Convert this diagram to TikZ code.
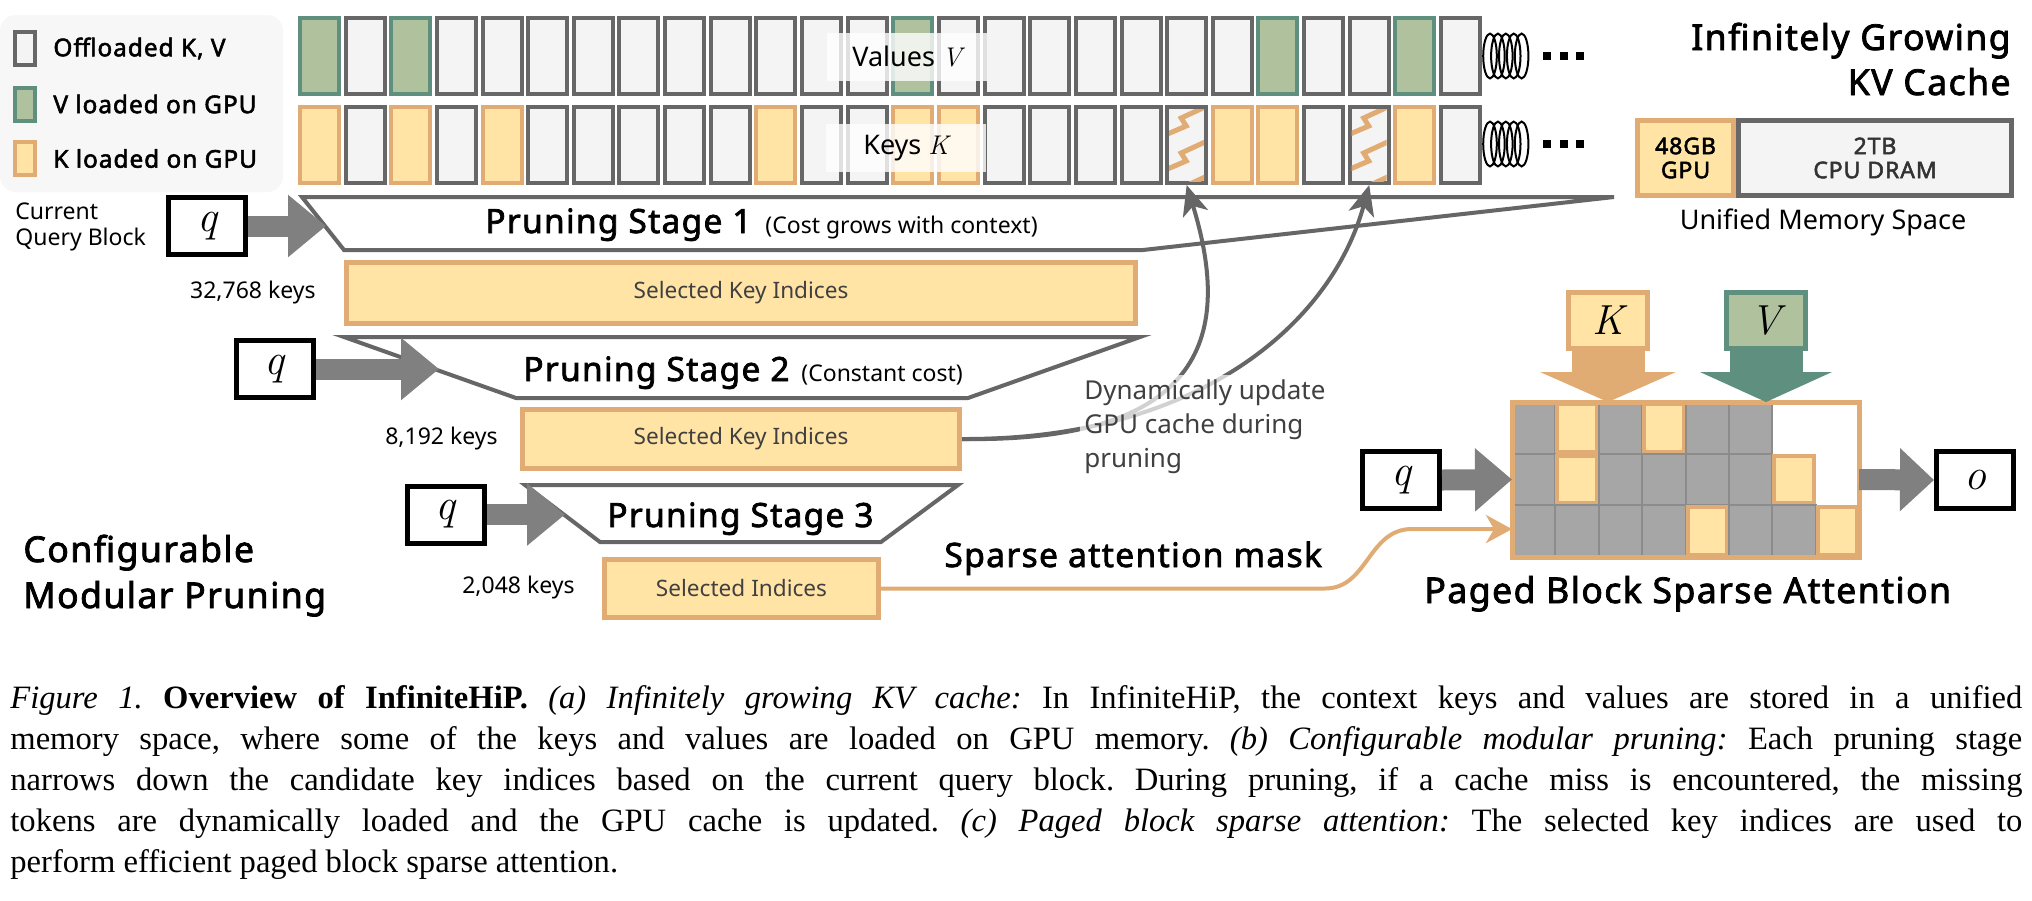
\documentclass[tikz,border=0pt]{standalone}
\usepackage{fontspec}
\newfontfamily\nsans{Noto Sans}[BoldFont={Noto Sans},BoldFeatures={FakeBold=2.2,LetterSpace=4}]
\newfontfamily\capfont{Liberation Serif}
\usetikzlibrary{arrows.meta,calc}
\definecolor{cellf}{HTML}{F4F4F4}
\definecolor{cellb}{HTML}{676767}
\definecolor{yelf}{HTML}{FFE4A6}
\definecolor{yelb}{HTML}{E1AB74}
\definecolor{grnf}{HTML}{B0C29D}
\definecolor{grnb}{HTML}{5F8F7E}
\definecolor{agray}{HTML}{808080}
\definecolor{lgray}{HTML}{666666}
\definecolor{gridg}{HTML}{A6A6A6}
\definecolor{gridl}{HTML}{8C8C8C}
\definecolor{txtg}{HTML}{404040}
\definecolor{legbg}{HTML}{F7F7F7}
\begin{document}
\begin{tikzpicture}[x=0.5pt,y=-0.5pt,
 cellbase/.style={minimum width=19.5pt,minimum height=38pt,line width=2pt,inner sep=0pt},
 cn/.style={cellbase,draw=cellb,fill=cellf},
 cg/.style={cellbase,draw=grnb,fill=grnf},
 cy/.style={cellbase,draw=yelb,fill=yelf},
 legsq/.style={minimum width=10pt,minimum height=16.5pt,line width=2pt,inner sep=0pt},
 legtxt/.style={anchor=west,inner sep=0pt,font=\nsans\bfseries\fontsize{12.2}{14}\selectfont},
 qbox/.style={draw=black,fill=white,line width=2.5pt,minimum width=38.5pt,minimum height=28.5pt,inner sep=0pt,font=\rmfamily\itshape\fontsize{22}{22}\selectfont},
 trap/.style={draw=lgray,fill=white,line width=2pt,line join=miter},
 selbox/.style={draw=yelb,fill=yelf,line width=2.5pt,inner sep=0pt,font=\nsans\fontsize{11.3}{13}\selectfont,text=txtg},
 blockarr/.style={draw=agray,line width=10.5pt,-{Triangle[length=19pt,width=30pt]}},
 head/.style={inner sep=0pt,font=\nsans\bfseries\fontsize{17.8}{20}\selectfont},
 stagehead/.style={inner sep=0pt,font=\nsans\bfseries\fontsize{16.7}{20}\selectfont},
 note/.style={inner sep=0pt,font=\nsans\fontsize{11.5}{13}\selectfont},
 curv/.style={draw=lgray,line width=2pt,-{Stealth[length=15pt,width=13pt,inset=4pt]}},
 mask/.style={draw=yelb,line width=2pt,-{Stealth[length=13pt,width=14pt,inset=4pt]}},
 lab/.style={fill=white,fill opacity=0.8,text opacity=1,minimum width=80pt,minimum height=24pt,inner sep=0pt,font=\nsans\fontsize{13.5}{15}\selectfont},
 kvbox/.style={line width=2.5pt,minimum width=39.5pt,minimum height=28pt,inner sep=0pt,font=\rmfamily\itshape\fontsize{21}{21}\selectfont},
 membox/.style={line width=2.5pt,minimum height=37.5pt,inner sep=0pt,align=center,font=\nsans\bfseries\fontsize{11.5}{13}\selectfont},
]
\useasboundingbox (0,0) rectangle (2032,900);
\fill[white] (0,0) rectangle (2032,900);

% legend
\fill[legbg,rounded corners=8pt] (0,15) rectangle (283,192);
\node[legsq,draw=cellb,fill=cellf] (l1) at (24.5,48.5) {};
\node[legsq,draw=grnb,fill=grnf] (l2) at (24.5,104) {};
\node[legsq,draw=yelb,fill=yelf] (l3) at (24.5,158.5) {};
\node[legtxt] (lt1) at (53,48.5) {Offloaded K, V};
\node[legtxt] (lt2) at (53,104) {V loaded on GPU};
\node[legtxt] (lt3) at (53,158.5) {K loaded on GPU};

% cache cells
\foreach \i/\s in {0/cg,1/cn,2/cg,3/cn,4/cn,5/cn,6/cn,7/cn,8/cn,9/cn,10/cn,11/cn,12/cn,13/cg,14/cn,15/cn,16/cn,17/cn,18/cn,19/cn,20/cn,21/cg,22/cn,23/cn,24/cg,25/cn}
  \node[\s] (v\i) at ({319.5+\i*45.64},56) {};
\foreach \i/\s in {0/cy,1/cn,2/cy,3/cn,4/cy,5/cn,6/cn,7/cn,8/cn,9/cn,10/cy,11/cn,12/cn,13/cy,14/cy,15/cn,16/cn,17/cn,18/cn,19/cn,20/cy,21/cy,22/cn,23/cn,24/cy,25/cn}
  \node[\s] (k\i) at ({319.5+\i*45.64},145) {};
% zigzag cells
\foreach \c in {k19,k23}{
  \begin{scope}
  \clip ($(\c.north west)+(4,4)$) rectangle ($(\c.south east)+(-4,-4)$);
  \foreach \m in {-1,0,1,2}
    \draw[yelb,line width=2.5pt] ($(\c.north west)+(0,{30+35*\m})$) -- ++(21,-9) -- ++(-5,-8) -- ++(26,-12);
  \end{scope}
}
\node[lab] (vlab) at (907,57) {Values {\rmfamily\itshape V}};
\node[lab] (klab) at (906,148) {Keys {\rmfamily\itshape K}};

% coils and dots
\foreach \yy in {56,144}{
  \foreach \j in {0,...,4}
    \draw[black,line width=1pt] ({1490+\j*7.9},\yy) ellipse [x radius=3.4pt,y radius=11.2pt];
  \foreach \xx in {1547,1563.5,1580}
    \fill[black] (\xx-4,\yy-4) rectangle (\xx+4,\yy+4);
}

% title top right
\node[head,anchor=base east] (t1) at (2011,50) {Infinitely Growing};
\node[head,anchor=base east] (t2) at (2011,95) {KV Cache};
\node[membox,draw=cellb,fill=cellf,minimum width=136.5pt,text=black!80] (cpu) at (1875,158) {2TB\\[-1pt]CPU DRAM};
\node[membox,draw=yelb,fill=yelf,minimum width=48pt] (gpu) at (1685.5,158) {48GB\\[-1pt]GPU};
\node[inner sep=0pt,font=\nsans\fontsize{13.5}{15}\selectfont] (ums) at (1823,222) {Unified Memory Space};

% pruning stage 1
\draw[trap] (302,197) -- (1614,197) -- (1143,250) -- (344,250) -- cycle;
\coordinate (s1in) at (326,226);
\node[qbox] (q1) at (207,226) {q};
\draw[blockarr] (q1.east) -- (s1in);
\node[note,anchor=base west] (cur1) at (15,219) {Current};
\node[note,anchor=base west] (cur2) at (15,245) {Query Block};
\node[stagehead,anchor=base west] (p1) at (485,233) {Pruning Stage 1};
\node[note,anchor=base west] (p1c) at (765,233) {(Cost grows with context)};
\node[selbox,minimum width=394.5pt,minimum height=30.5pt] (sel1) at (741,293) {Selected Key Indices};
\node[note,anchor=east] (n1) at (316,293) {32,768 keys};

% pruning stage 2
\draw[trap] (344,337) -- (1140,337) -- (968,398) -- (516,398) -- cycle;
\coordinate (s2in) at (439,369);
\node[qbox] (q2) at (274.5,369) {q};
\draw[blockarr] (q2.east) -- (s2in);
\node[stagehead,anchor=base west] (p2) at (523,381) {Pruning Stage 2};
\node[note,anchor=base west] (p2c) at (801,381) {(Constant cost)};
\node[selbox,minimum width=218.5pt,minimum height=29.5pt] (sel2) at (741,439) {Selected Key Indices};
\node[note,anchor=east] (n2) at (498,439) {8,192 keys};

% pruning stage 3
\draw[trap] (525,485) -- (958,485) -- (881,542) -- (600,542) -- cycle;
\coordinate (s3in) at (565,514.5);
\node[qbox] (q3) at (445.5,514.5) {q};
\draw[blockarr] (q3.east) -- (s3in);
\node[stagehead,anchor=base west] (p3) at (607,527) {Pruning Stage 3};
\node[selbox,minimum width=137pt,minimum height=29pt] (sel3) at (741.5,588.5) {Selected Indices};
\node[note,anchor=east] (n3) at (575,588) {2,048 keys};

\node[head,anchor=base west] (cm1) at (23,562) {Configurable};
\node[head,anchor=base west] (cm2) at (23,608) {Modular Pruning};

% dynamic update curves
\draw[curv] (sel2.east) .. controls (1220,443) and (1228,320) .. (k19.south);
\draw[curv] (sel2.east) .. controls (1200,440) and (1332,322) .. (k23.south);
\node[fill=white,fill opacity=0.7,text opacity=1,align=left,anchor=north west,inner sep=2pt,text=txtg,font=\nsans\fontsize{13}{17}\selectfont] (dyn) at (1080,375) {Dynamically update\\GPU cache during\\pruning};

% paged block sparse attention
\node[minimum width=173.5pt,minimum height=77.5pt,inner sep=0pt,outer sep=0pt] (grid) at (1685.5,479.5) {};
\foreach \r/\row in {0/{G,Y,G,Y,G,G,W,W},1/{G,Y,G,G,G,G,Y,W},2/{G,G,G,G,Y,G,G,Y}}{
  \foreach \t [count=\c from 0] in \row {
    \pgfmathsetmacro\xa{1512+\c*43.375}
    \pgfmathsetmacro\ya{402+\r*51.67}
    \if G\t
      \draw[fill=gridg,draw=gridl,line width=1pt] (\xa,\ya) rectangle ++(43.375,51.67);
    \fi
    \if Y\t
      \draw[fill=yelf,draw=yelb,line width=2pt] (\xa+2,\ya+2) rectangle ++(39.375,47.67);
    \fi
  }
}
\draw[yelb,line width=2.5pt] (grid.north west) rectangle (grid.south east);

\node[kvbox,draw=yelb,fill=yelf] (kb) at (1608,320.5) {K};
\node[kvbox,draw=grnb,fill=grnf] (vb) at (1766,320.5) {V};
\draw[draw=yelb,line width=36.5pt,-{Triangle[length=15pt,width=67.5pt]}] (kb.south) -- (kb.south |- grid.north);
\draw[draw=grnb,line width=36.5pt,-{Triangle[length=15pt,width=65.5pt]}] (vb.south) -- (vb.south |- grid.north);

\node[qbox] (q4) at (1401,480) {q};
\node[qbox] (ob) at (1975,480) {o};
\draw[draw=agray,line width=10.5pt,-{Triangle[length=18.5pt,width=30.5pt]}] (q4.east) -- (grid.west);
\draw[draw=agray,line width=10.5pt,-{Triangle[length=17pt,width=30.5pt]}] (grid.east) -- (ob.west);

\draw[mask] (sel3.east) -- (1325,588.5) .. controls (1368,588.5) and (1368,529) .. (1412,529) -- ($(grid.south west)!0.18!(grid.north west)$);
\node[head,anchor=base west,font=\nsans\bfseries\fontsize{16.8}{20}\selectfont] (sam) at (944,567) {Sparse attention mask};
\node[head,anchor=base west] (pbsa) at (1424,603) {Paged Block Sparse Attention};

% caption
\node[anchor=base west,inner sep=0pt] (cap) at (10,708) {\parbox[t]{1006pt}{\capfont\fontsize{16.3}{20.5}\selectfont\hyphenpenalty=10000\frenchspacing
\textit{Figure 1.} \textbf{Overview of InfiniteHiP.} \textit{(a) Infinitely growing KV cache:} In InfiniteHiP, the context keys and values are stored in a unified\linebreak
memory space, where some of the keys and values are loaded on GPU memory. \textit{(b) Configurable modular pruning:} Each pruning stage\linebreak
narrows down the candidate key indices based on the current query block. During pruning, if a cache miss is encountered, the missing\linebreak
tokens are dynamically loaded and the GPU cache is updated. \textit{(c) Paged block sparse attention:} The selected key indices are used to\linebreak
perform efficient paged block sparse attention.}};
\end{tikzpicture}
\end{document}
